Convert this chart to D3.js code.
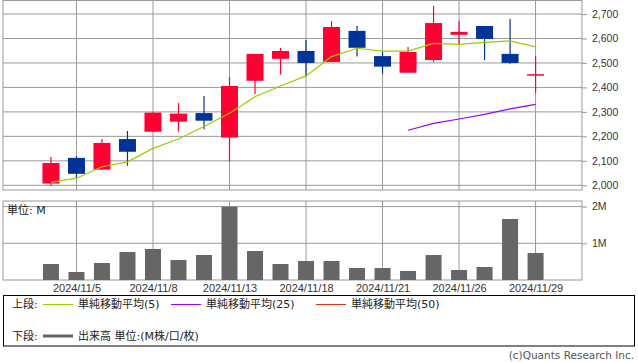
<!DOCTYPE html>
<html>
<head>
<meta charset="utf-8">
<script src="https://cdn.jsdelivr.net/npm/d3@7"></script>
<style>
  body { margin: 0; background: #fff; }
  svg { display: block; font-family: "DejaVu Sans", "Noto Sans CJK JP", sans-serif; }
</style>
</head>
<body>
<div id="chart"></div>
<script>
// trading days (Nov 2024)
var dates = ["2024/11/1","2024/11/5","2024/11/6","2024/11/7","2024/11/8","2024/11/11","2024/11/12",
  "2024/11/13","2024/11/14","2024/11/15","2024/11/18","2024/11/19","2024/11/20","2024/11/21",
  "2024/11/22","2024/11/25","2024/11/26","2024/11/27","2024/11/28","2024/11/29"];

var open  = [2007,2112,2064,2189,2219,2260,2295,2195,2427,2517,2549,2504,2631,2528,2460,2512,2615,2651,2537,2454];
var high  = [2116,2119,2189,2222,2298,2336,2365,2443,2537,2561,2594,2671,2651,2546,2565,2733,2671,2651,2680,2528];
var low   = [1998,2029,2064,2080,2217,2219,2229,2098,2373,2452,2445,2504,2526,2456,2460,2504,2576,2512,2497,2378];
var close = [2091,2047,2173,2137,2297,2293,2264,2406,2537,2549,2500,2647,2562,2485,2545,2663,2627,2598,2500,2454];

// moving averages
var ma5  = [2012,2029,2076,2096,2151,2189,2240,2294,2362,2406,2447,2526,2560,2548,2548,2580,2576,2584,2590,2566];
var ma25 = [null,null,null,null,null,null,null,null,null,null,null,null,null,null,2225,2253,2271,2290,2312,2331];

// volume in millions
var volume = [0.436,0.218,0.463,0.763,0.845,0.545,0.681,1.997,0.790,0.436,0.518,0.518,0.327,0.327,0.245,0.681,0.272,0.354,1.662,0.736];

var priceTicks = [2000,2100,2200,2300,2400,2500,2600,2700];
var volTicks = [1,2];
var labelIdx = [1,4,7,10,13,16,19];

var W = 638, H = 362;
var left = 3, right = 582;

var svg = d3.select("#chart").append("svg")
  .attr("width", W).attr("height", H);

var x = d3.scaleLinear().domain([-1.88, 20.82]).range([left, right]);
var y = d3.scaleLinear().domain([2000, 2700]).range([185.3, 14]);
var yv = d3.scaleLinear().domain([0, 2]).range([280, 206.6]);

var grid = "#999";
var up = "#ff0033", down = "#003399";
var bw = 17;

// ---- upper panel ----
var top1 = 0.5, bot1 = 190;

// horizontal grid + right axis
var pAxis = svg.append("g")
  .attr("transform", "translate(" + right + ",0)")
  .call(d3.axisRight(y).tickValues(priceTicks).tickSize(5).tickPadding(5).tickFormat(d3.format(",")));
pAxis.select(".domain").remove();
pAxis.selectAll("line").attr("stroke", grid);
pAxis.selectAll("text").attr("fill", "#333").style("font-size", "10.5px");

svg.append("g")
  .selectAll("line").data(priceTicks).join("line")
  .attr("x1", left).attr("x2", right)
  .attr("y1", function(d) { return y(d); }).attr("y2", function(d) { return y(d); })
  .attr("stroke", grid);

// vertical grid
svg.append("g")
  .selectAll("line").data(labelIdx).join("line")
  .attr("x1", function(d) { return x(d); }).attr("x2", function(d) { return x(d); })
  .attr("y1", top1).attr("y2", bot1)
  .attr("stroke", grid);

// border
svg.append("rect")
  .attr("x", left).attr("y", top1).attr("width", right - left).attr("height", bot1 - top1)
  .attr("fill", "none").attr("stroke", grid);

// candles
var candles = svg.append("g").selectAll("g").data(dates).join("g");
candles.append("line")
  .attr("x1", function(d, i) { return x(i); }).attr("x2", function(d, i) { return x(i); })
  .attr("y1", function(d, i) { return y(high[i]); }).attr("y2", function(d, i) { return y(low[i]); })
  .attr("stroke", function(d, i) { return close[i] >= open[i] ? up : down; })
  .attr("stroke-width", 1.2);
candles.append("rect")
  .attr("x", function(d, i) { return x(i) - bw / 2; })
  .attr("width", bw)
  .attr("y", function(d, i) { return y(Math.max(open[i], close[i])); })
  .attr("height", function(d, i) { return Math.max(1.5, Math.abs(y(open[i]) - y(close[i]))); })
  .attr("fill", function(d, i) { return close[i] >= open[i] ? up : down; });

// moving averages
var line = d3.line()
  .defined(function(d) { return d != null; })
  .x(function(d, i) { return x(i); })
  .y(function(d) { return y(d); });

svg.append("path").datum(ma5)
  .attr("fill", "none").attr("stroke", "#99cc00").attr("stroke-width", 1.2)
  .attr("d", line);
svg.append("path").datum(ma25)
  .attr("fill", "none").attr("stroke", "#9900ff").attr("stroke-width", 1.2)
  .attr("d", line);

// ---- volume panel ----
var top2 = 201, bot2 = 280;

var vAxis = svg.append("g")
  .attr("transform", "translate(" + right + ",0)")
  .call(d3.axisRight(yv).tickValues(volTicks).tickSize(5).tickPadding(5).tickFormat(function(d) { return d + "M"; }));
vAxis.select(".domain").remove();
vAxis.selectAll("line").attr("stroke", grid);
vAxis.selectAll("text").attr("fill", "#333").style("font-size", "10.5px");

svg.append("g")
  .selectAll("line").data(volTicks).join("line")
  .attr("x1", left).attr("x2", right)
  .attr("y1", function(d) { return yv(d); }).attr("y2", function(d) { return yv(d); })
  .attr("stroke", grid);

svg.append("g")
  .selectAll("line").data(labelIdx).join("line")
  .attr("x1", function(d) { return x(d); }).attr("x2", function(d) { return x(d); })
  .attr("y1", top2).attr("y2", bot2)
  .attr("stroke", grid);

svg.append("rect")
  .attr("x", left).attr("y", top2).attr("width", right - left).attr("height", bot2 - top2)
  .attr("fill", "none").attr("stroke", grid);

svg.append("g")
  .selectAll("rect").data(volume).join("rect")
  .attr("x", function(d, i) { return x(i) - 8; })
  .attr("width", 16)
  .attr("y", function(d) { return yv(d); })
  .attr("height", function(d) { return bot2 - yv(d); })
  .attr("fill", "#666");

svg.append("text")
  .attr("x", 7).attr("y", 214)
  .style("font-size", "11px").attr("fill", "#222")
  .text("単位: M");

// date labels
var xAxis = svg.append("g")
  .attr("transform", "translate(0," + bot2 + ")")
  .call(d3.axisBottom(x).tickValues(labelIdx).tickSize(0).tickPadding(4)
    .tickFormat(function(d) { return dates[d]; }));
xAxis.select(".domain").remove();
xAxis.selectAll("text").attr("fill", "#333").style("font-size", "11px");

// ---- legend ----
svg.append("rect")
  .attr("x", 3.5).attr("y", 295.5).attr("width", 631).attr("height", 50.5)
  .attr("fill", "none").attr("stroke", "#000");

var legendItems = [
  {label: "単純移動平均(5)", color: "#99cc00", x: 43},
  {label: "単純移動平均(25)", color: "#9900ff", x: 171},
  {label: "単純移動平均(50)", color: "#dd3311", x: 316}
];
svg.append("text").attr("x", 12).attr("y", 308).style("font-size", "11px").attr("fill", "#222").text("上段:");
legendItems.forEach(function(d) {
  svg.append("line").attr("x1", d.x).attr("x2", d.x + 30).attr("y1", 304.5).attr("y2", 304.5)
    .attr("stroke", d.color).attr("stroke-width", 1);
  svg.append("text").attr("x", d.x + 35).attr("y", 308).style("font-size", "11px").attr("fill", "#222").text(d.label);
});
svg.append("text").attr("x", 12).attr("y", 340).style("font-size", "11px").attr("fill", "#222").text("下段:");
svg.append("line").attr("x1", 43).attr("x2", 73).attr("y1", 336).attr("y2", 336)
  .attr("stroke", "#666").attr("stroke-width", 3);
svg.append("text").attr("x", 78).attr("y", 340).style("font-size", "11px").attr("fill", "#222").text("出来高 単位:(M株/口/枚)");

svg.append("text")
  .attr("x", 634).attr("y", 359).attr("text-anchor", "end")
  .style("font-size", "10.5px").attr("fill", "#555")
  .text("(c)Quants Research Inc.");
</script>
</body>
</html>
